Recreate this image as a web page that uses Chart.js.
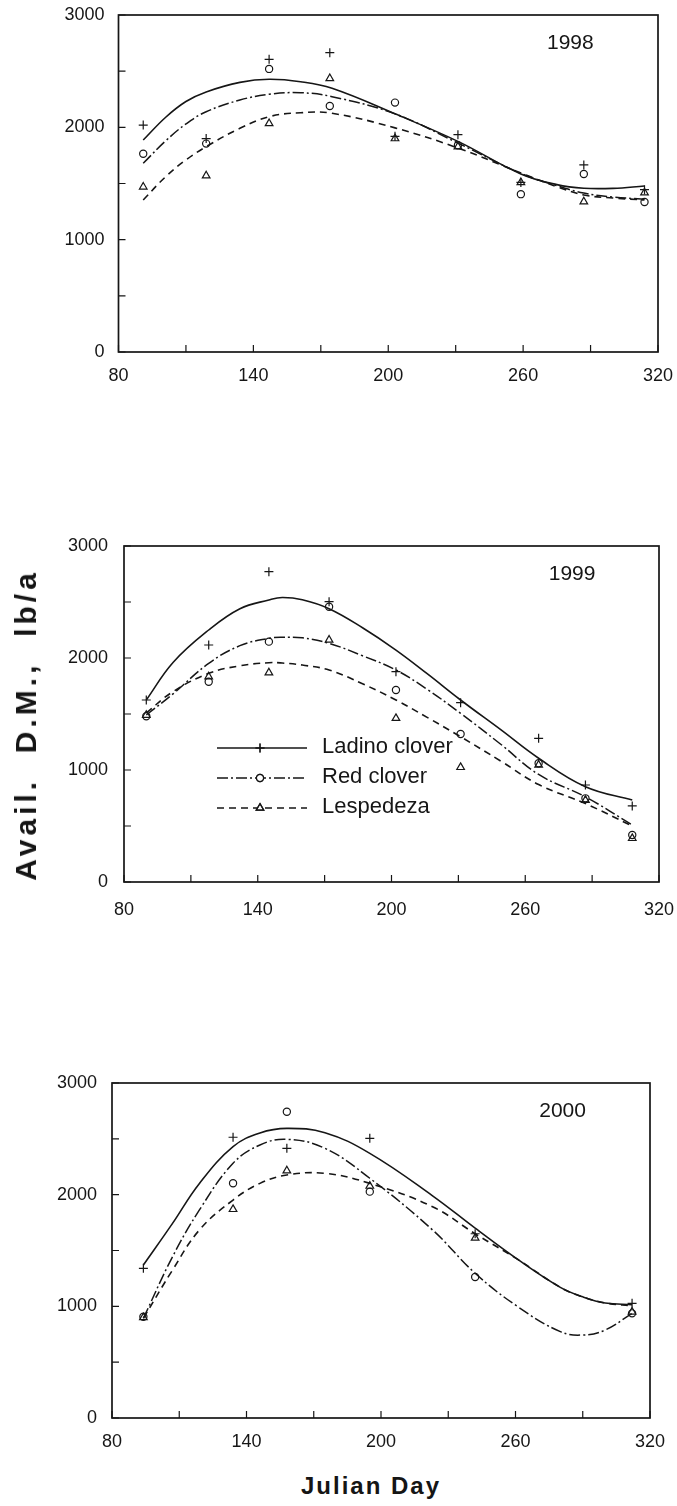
<!DOCTYPE html>
<html>
<head>
<meta charset="utf-8">
<script src="https://cdn.jsdelivr.net/npm/chart.js@4.4.1/dist/chart.umd.min.js"></script>
<style>
html, body { margin: 0; padding: 0; background: #ffffff; }
body { width: 677px; height: 1506px; position: relative; overflow: hidden; }
canvas { position: absolute; left: 0; }
.ytitle {
  position: absolute; left: 26px; top: 725px;
  transform: translate(-50%, -50%) rotate(-90deg);
  font: bold 30px "Liberation Sans", Arial, sans-serif;
  letter-spacing: 4px; white-space: pre; line-height: 1; color: #151515;
}
.xtitle {
  position: absolute; left: 371px; top: 1486px;
  transform: translate(-50%, -50%);
  font: bold 24px "Liberation Sans", Arial, sans-serif;
  letter-spacing: 2px; white-space: pre; line-height: 1; color: #151515;
}
</style>
</head>
<body>
<canvas id="c1998"></canvas>
<canvas id="c1999"></canvas>
<canvas id="c2000"></canvas>
<div class="ytitle">Avail.  D.M.,  lb/a</div>
<div class="xtitle">Julian Day</div>
<script>
// ---------- data ----------
const seriesNames = ['Ladino clover', 'Red clover', 'Lespedeza'];
const years = ['1998', '1999', '2000'];
const xTickValues = [80, 110, 140, 170, 200, 230, 260, 290, 320];
const xTickLabels = [80, 140, 200, 260, 320];
const yTickLabels = [0, 1000, 2000, 3000];

// 1998 observations
const days1998    = [91, 119, 147, 174, 203, 231, 259, 287, 314];
const ladino1998  = [2020, 1900, 2605, 2665, 1920, 1935, 1510, 1665, 1445];
const red1998     = [1765, 1855, 2520, 2190, 2220, 1840, 1405, 1585, 1335];
const lesp1998    = [1470, 1570, 2035, 2435, 1900, 1828, 1510, 1338, 1418];
// 1998 fitted curves
const fitDays1998   = [91, 101, 110, 119, 134, 147, 161, 175, 203, 231, 259, 275, 287, 300, 314];
const ladinoFit1998 = [1887, 2090, 2230, 2315, 2400, 2428, 2406, 2347, 2120, 1875, 1585, 1490, 1458, 1457, 1478];
const redFit1998    = [1680, 1880, 2030, 2139, 2243, 2294, 2308, 2273, 2120, 1860, 1590, 1480, 1415, 1380, 1360];
const lespFit1998   = [1353, 1561, 1710, 1828, 1991, 2095, 2130, 2125, 1995, 1816, 1593, 1472, 1398, 1371, 1353];

// 1999 observations
const days1999    = [90, 118, 145, 172, 202, 231, 266, 287, 308];
const ladino1999  = [1625, 2116, 2771, 2503, 1878, 1601, 1283, 866, 679];
const red1999     = [1480, 1788, 2146, 2458, 1714, 1321, 1060, 747, 420];
const lesp1999    = [1490, 1833, 1869, 2161, 1462, 1024, 1045, 730, 390];
// 1999 fitted curves
const fitDays1999   = [90, 102, 118, 132, 145, 151, 160, 172, 187, 202, 216, 231, 249, 266, 287, 308];
const ladinoFit1999 = [1625, 1960, 2250, 2440, 2518, 2540, 2520, 2440, 2270, 2071, 1860, 1625, 1360, 1105, 851, 732];
const redFit1999    = [1491, 1680, 1952, 2110, 2176, 2185, 2180, 2131, 2020, 1893, 1720, 1506, 1230, 960, 760, 509];
const lespFit1999   = [1510, 1700, 1863, 1930, 1958, 1955, 1937, 1893, 1770, 1625, 1470, 1297, 1080, 870, 700, 500];

// 2000 observations
const days2000    = [94, 134, 158, 195, 242, 312];
const ladino2000  = [1340, 2514, 2415, 2505, 1650, 1027];
const red2000     = [907, 2102, 2743, 2027, 1263, 937];
const lesp2000    = [900, 1869, 2215, 2077, 1612, 950];
// 2000 fitted curves
const fitDays2000   = [94, 107, 119, 134, 146, 158, 175, 195, 223, 242, 261, 280, 290, 300, 312];
const ladinoFit2000 = [1370, 1743, 2101, 2430, 2553, 2594, 2555, 2370, 1990, 1700, 1420, 1170, 1085, 1030, 1015];
const redFit2000    = [893, 1444, 1863, 2281, 2445, 2496, 2415, 2147, 1684, 1296, 997, 773, 743, 788, 937];
const lespFit2000   = [893, 1325, 1684, 1952, 2101, 2176, 2191, 2101, 1892, 1650, 1420, 1170, 1085, 1030, 1005];

// ---------- styles / layout ----------
const ink = '#161616';
const seriesStyles = [
  { point: 'cross',    r: 4.5, lw: 1.6, dash: [] },
  { point: 'circle',   r: 3.6, lw: 1.5, dash: [11, 3, 2, 3] },
  { point: 'triangle', r: 4.4, lw: 1.6, dash: [7, 5] }
];
const yearPos = { x: 281, y: 2745 };
const tickFont = { family: '"Liberation Sans", Arial, sans-serif', size: 18 };

const panels = [
  { id: 'c1998', year: years[0], top: 0,    h: 400, area: { l: 118.5, r: 658, t: 15,   b: 352 },  yPad: 14, xPad: 13,
    days: days1998, obs: [ladino1998, red1998, lesp1998], fitDays: fitDays1998, fits: [ladinoFit1998, redFit1998, lespFit1998], legend: false },
  { id: 'c1999', year: years[1], top: 500,  h: 430, area: { l: 124, r: 659, t: 546,  b: 882 },   yPad: 16, xPad: 17,
    days: days1999, obs: [ladino1999, red1999, lesp1999], fitDays: fitDays1999, fits: [ladinoFit1999, redFit1999, lespFit1999], legend: true },
  { id: 'c2000', year: years[2], top: 1040, h: 430, area: { l: 112, r: 650, t: 1083, b: 1418 },  yPad: 15, xPad: 13,
    days: days2000, obs: [ladino2000, red2000, lesp2000], fitDays: fitDays2000, fits: [ladinoFit2000, redFit2000, lespFit2000], legend: false }
];

function drawMarker(ctx, style, r, x, y) {
  if (Chart.helpers && Chart.helpers.drawPoint) {
    Chart.helpers.drawPoint(ctx, { pointStyle: style, radius: r, rotation: 0, borderWidth: 1.2 }, x, y);
    ctx.stroke();
  }
}

const framePlugin = {
  id: 'frame',
  afterDatasetsDraw(chart, args, o) {
    const { ctx, chartArea: a, scales: { x, y } } = chart;
    ctx.save();
    ctx.strokeStyle = ink;
    ctx.lineWidth = 1.7;
    ctx.setLineDash([]);
    ctx.strokeRect(a.left, a.top, a.right - a.left, a.bottom - a.top);
    ctx.lineWidth = 1.2;
    ctx.beginPath();
    x.ticks.forEach(t => { const px = x.getPixelForValue(t.value); ctx.moveTo(px, a.bottom); ctx.lineTo(px, a.bottom - 7); });
    y.ticks.forEach(t => { const py = y.getPixelForValue(t.value); ctx.moveTo(a.left, py); ctx.lineTo(a.left + 7, py); });
    ctx.stroke();
    ctx.fillStyle = ink;
    ctx.font = '21px "Liberation Sans", Arial, sans-serif';
    ctx.textAlign = 'center';
    ctx.textBaseline = 'middle';
    ctx.fillText(o.year, x.getPixelForValue(yearPos.x), y.getPixelForValue(yearPos.y));

    if (o.legend) {
      ctx.font = '22px "Liberation Sans", Arial, sans-serif';
      ctx.textAlign = 'left';
      seriesStyles.forEach((st, i) => {
        const ly = a.top + 202 + 30 * i;
        const x0 = a.left + 93, x1 = a.left + 183;
        ctx.lineWidth = st.lw;
        ctx.setLineDash(st.dash);
        ctx.beginPath(); ctx.moveTo(x0, ly); ctx.lineTo(x1, ly); ctx.stroke();
        ctx.setLineDash([]);
        ctx.lineWidth = 1.2;
        ctx.fillStyle = '#ffffff';
        drawMarker(ctx, st.point, st.r, a.left + 136, ly);
        ctx.fillStyle = ink;
        ctx.fillText(seriesNames[i], a.left + 198, ly - 1);
      });
    }
    ctx.restore();
  }
};

panels.forEach(p => {
  const canvas = document.getElementById(p.id);
  canvas.width = 677; canvas.height = p.h;
  canvas.style.width = '677px'; canvas.style.height = p.h + 'px';
  canvas.style.top = p.top + 'px';
  const xH = 40;
  const toXY = (xs, ys) => xs.map((v, i) => ({ x: v, y: ys[i] }));
  const datasets = [];
  seriesStyles.forEach((st, i) => {
    datasets.push({
      label: seriesNames[i] + ' fit',
      data: toXY(p.fitDays, p.fits[i]),
      showLine: true, pointRadius: 0, pointHoverRadius: 0,
      borderColor: ink, borderWidth: st.lw, borderDash: st.dash,
      tension: 0.4, fill: false
    });
  });
  seriesStyles.forEach((st, i) => {
    datasets.push({
      label: seriesNames[i],
      data: toXY(p.days, p.obs[i]),
      showLine: false, pointStyle: st.point, pointRadius: st.r, pointHoverRadius: st.r,
      pointBorderWidth: 1.2, pointBorderColor: ink, pointBackgroundColor: 'rgba(255,255,255,0)',
      borderColor: ink, backgroundColor: 'rgba(255,255,255,0)'
    });
  });
  new Chart(canvas, {
    type: 'scatter',
    data: { datasets },
    options: {
      responsive: false, animation: false, devicePixelRatio: 1,
      events: [],
      layout: { padding: { top: p.area.t - p.top, left: 0, right: 677 - p.area.r, bottom: p.h - (p.area.b - p.top) - xH } },
      plugins: { legend: { display: false }, tooltip: { enabled: false }, frame: { year: p.year, legend: p.legend } },
      scales: {
        x: {
          type: 'linear', min: 80, max: 320,
          grid: { display: false, drawTicks: false }, border: { display: false },
          afterBuildTicks: s => { s.ticks = xTickValues.map(v => ({ value: v })); },
          afterFit: s => { s.height = xH; s.paddingLeft = 0; s.paddingRight = 0; },
          ticks: { autoSkip: false, maxRotation: 0, padding: p.xPad, color: ink, font: tickFont,
                   callback: v => xTickLabels.includes(v) ? String(v) : '' }
        },
        y: {
          type: 'linear', min: 0, max: 3000,
          grid: { display: false, drawTicks: false }, border: { display: false },
          afterFit: s => { s.width = p.area.l; s.paddingTop = 0; s.paddingBottom = 0; },
          ticks: { stepSize: 500, autoSkip: false, padding: p.yPad, color: ink, font: tickFont,
                   callback: v => yTickLabels.includes(v) ? String(v) : '' }
        }
      }
    },
    plugins: [framePlugin]
  });
});
</script>
</body>
</html>
